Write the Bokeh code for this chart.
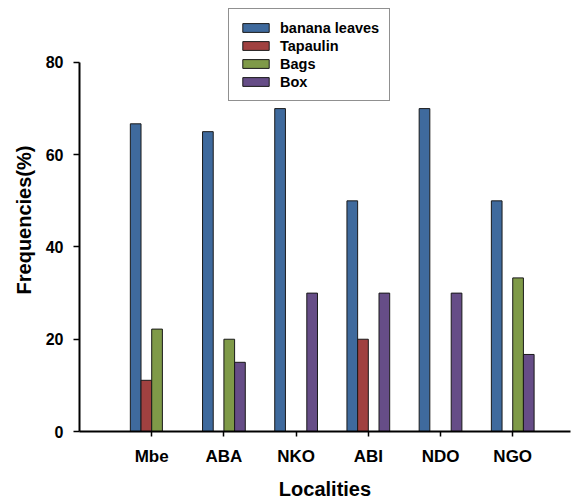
from bokeh.plotting import figure
from bokeh.models import ColumnDataSource, FixedTicker, Legend, LegendItem, Range1d
from bokeh.embed import file_html
from bokeh.resources import INLINE

localities = ["Mbe", "ABA", "NKO", "ABI", "NDO", "NGO"]
banana_leaves = [66.7, 65, 70, 50, 70, 50]
tapaulin = [11.1, 0, 0, 20, 0, 0]
bags = [22.2, 20, 0, 0, 0, 33.3]
box = [0, 15, 30, 30, 30, 16.7]
series_names = ["banana leaves", "Tapaulin", "Bags", "Box"]
y_ticks = [0, 20, 40, 60, 80]

colors = ["#3F6A9D", "#A04140", "#7F9A48", "#664D87"]
series = [banana_leaves, tapaulin, bags, box]

xpos = list(range(1, len(localities) + 1))
bw = 0.148
offsets = [-1.5 * bw, -0.5 * bw, 0.5 * bw, 1.5 * bw]

FONT = "Liberation Sans"

p = figure(width=576, height=503, output_backend="svg", toolbar_location=None,
           x_range=Range1d(0, 6.8), y_range=Range1d(0, 91.7),
           min_border_left=79, min_border_right=6, min_border_top=8, min_border_bottom=72)
p.outline_line_color = None
p.xgrid.grid_line_color = None
p.ygrid.grid_line_color = None

items = []
for name, vals, col, off in zip(series_names, series, colors, offsets):
    xs = [x + off for x, v in zip(xpos, vals) if v > 0]
    ys = [v for v in vals if v > 0]
    src = ColumnDataSource(dict(x=xs, top=ys))
    r = p.vbar(x="x", top="top", bottom=0, width=bw, source=src,
               fill_color=col, line_color="#1a1a1a", line_width=1)
    items.append(LegendItem(label=name, renderers=[r]))

# y axis
p.yaxis.ticker = FixedTicker(ticks=y_ticks)
p.yaxis.bounds = (0, 80)
p.yaxis.minor_tick_line_color = None
p.yaxis.major_tick_out = 6
p.yaxis.major_tick_in = 0
p.yaxis.axis_line_width = 2
p.yaxis.major_tick_line_width = 1.5
p.yaxis.major_label_standoff = 10
p.yaxis.major_label_text_font = FONT
p.yaxis.major_label_text_font_style = "bold"
p.yaxis.major_label_text_font_size = "16px"
p.yaxis.major_label_text_color = "black"
p.yaxis.axis_label = "Frequencies(%)"
p.yaxis.axis_label_text_font = FONT
p.yaxis.axis_label_text_font_style = "bold"
p.yaxis.axis_label_text_font_size = "20px"
p.yaxis.axis_label_text_color = "black"
p.yaxis.axis_label_standoff = 8

# x axis
p.xaxis.ticker = FixedTicker(ticks=xpos)
p.xaxis.major_label_overrides = {x: n for x, n in zip(xpos, localities)}
p.xaxis.minor_tick_line_color = None
p.xaxis.major_tick_out = 5
p.xaxis.major_tick_in = 0
p.xaxis.axis_line_width = 2
p.xaxis.major_tick_line_width = 1.5
p.xaxis.major_label_standoff = 10
p.xaxis.major_label_text_font = FONT
p.xaxis.major_label_text_font_style = "bold"
p.xaxis.major_label_text_font_size = "17px"
p.xaxis.major_label_text_color = "black"
p.xaxis.axis_label = "Localities"
p.xaxis.axis_label_text_font = FONT
p.xaxis.axis_label_text_font_style = "bold"
p.xaxis.axis_label_text_font_size = "20px"
p.xaxis.axis_label_text_color = "black"
p.xaxis.axis_label_standoff = 9

legend = Legend(items=items, location=(149, 330), orientation="vertical")
legend.label_text_font = FONT
legend.label_text_font_style = "bold"
legend.label_text_font_size = "14.5px"
legend.label_text_color = "black"
legend.glyph_width = 33
legend.glyph_height = 11
legend.label_height = 17
legend.spacing = 1
legend.padding = 10
legend.margin = 0
legend.label_standoff = 8
legend.border_line_color = "#222222"
legend.border_line_width = 1.5
legend.background_fill_alpha = 1
p.add_layout(legend, "center")

open("out.html", "w").write(file_html(p, INLINE))
